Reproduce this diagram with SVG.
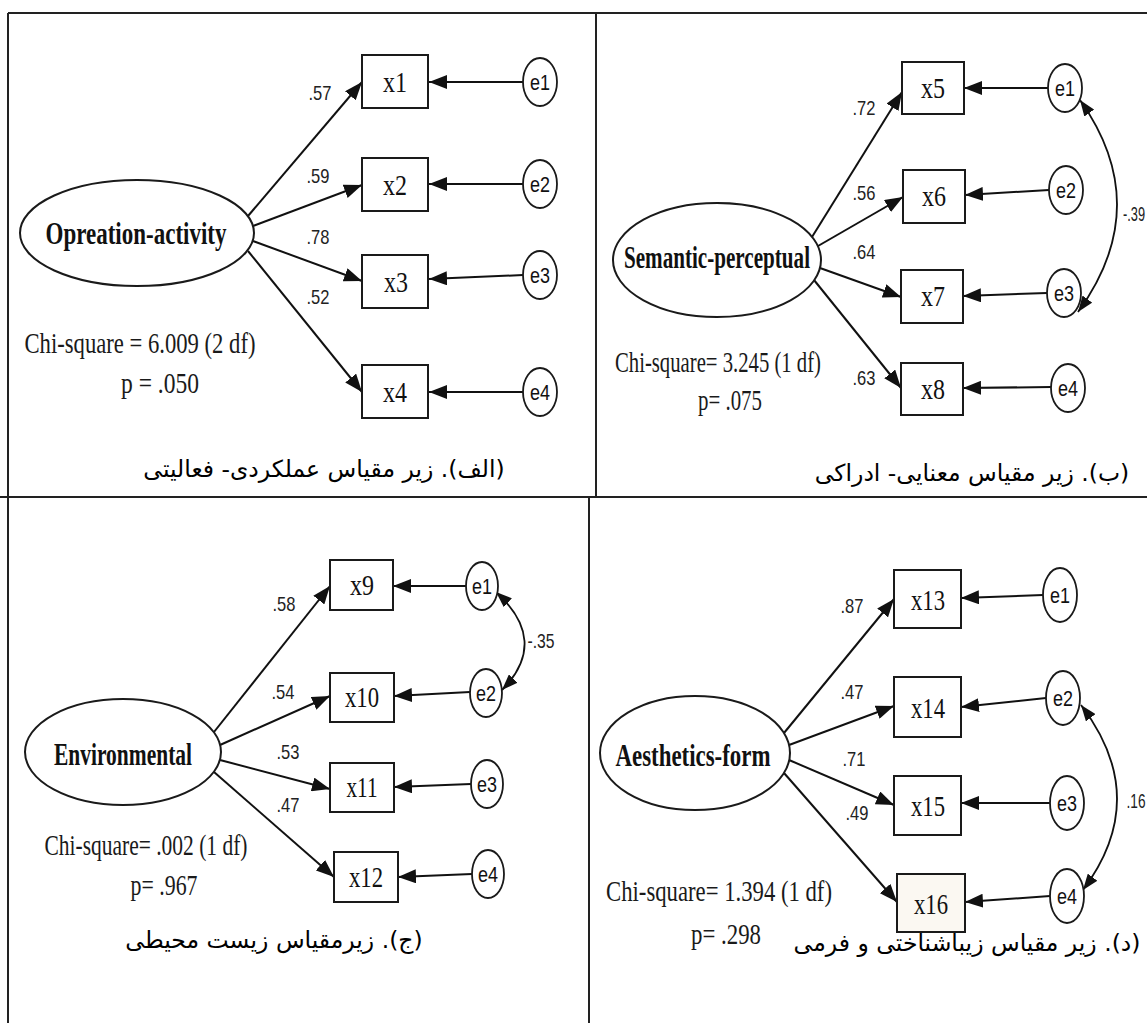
<svg xmlns="http://www.w3.org/2000/svg" width="1147" height="1023" viewBox="0 0 1147 1023">
<style>
.frame{fill:none;stroke:#222;stroke-width:2}
.lat{fill:#fff;stroke:#1a1a1a;stroke-width:2}
.box{fill:#fff;stroke:#1a1a1a;stroke-width:2}
.err{fill:#fff;stroke:#1a1a1a;stroke-width:1.8}
.c{fill:none;stroke:#111;stroke-width:2;marker-end:url(#ah)}
.cv{fill:none;stroke:#111;stroke-width:1.8;marker-end:url(#ah2);marker-start:url(#ah2)}
.lt{font-family:"Liberation Serif",serif;font-weight:bold;font-size:32px;fill:#111;text-anchor:middle}
.xl{font-family:"Liberation Serif",serif;font-size:30px;fill:#111;text-anchor:middle}
.el{font-family:"Liberation Sans",sans-serif;font-size:22px;fill:#111;text-anchor:middle}
.ld{font-family:"Liberation Sans",sans-serif;font-size:21px;fill:#222;text-anchor:middle}
.chi{font-family:"Liberation Serif",serif;font-size:30px;fill:#1a1a1a;text-anchor:middle}
.cap{font-family:"DejaVu Sans",sans-serif;font-size:23.5px;fill:#000;text-anchor:middle}
</style>
<defs>
<marker id="ah" markerUnits="userSpaceOnUse" viewBox="0 0 18 14" refX="18" refY="7" markerWidth="18" markerHeight="14" orient="auto"><path d="M0,0 L18,7 L0,14 z" fill="#111"/></marker>
<marker id="ah2" markerUnits="userSpaceOnUse" viewBox="0 0 16 12" refX="16" refY="6" markerWidth="16" markerHeight="12" orient="auto-start-reverse"><path d="M0,0 L16,6 L0,12 z" fill="#111"/></marker>
</defs>
<rect width="1147" height="1023" fill="#fff"/>
<g id="frame" class="frame">
<path d="M8,13 H1147"/>
<path d="M8,13 V1023"/>
<path d="M0,497 H1147"/>
<path d="M596,13 V497"/>
<path d="M589,497 V1023"/>
</g>
<g id="connectors">
<path class="c" d="M248,216 L362,82"/>
<path class="c" d="M253,226 L362,185"/>
<path class="c" d="M253,241 L362,281"/>
<path class="c" d="M248,251 L362,392"/>
<path class="c" d="M523,82 L429,82"/>
<path class="c" d="M523,184 L429,184"/>
<path class="c" d="M523,275 L429,279"/>
<path class="c" d="M523,392 L429,392"/>
<path class="c" d="M812,237 L902,92"/>
<path class="c" d="M818,246 L903,197"/>
<path class="c" d="M820,268 L901,297"/>
<path class="c" d="M814,280 L901,388"/>
<path class="c" d="M1048,88 L964,88"/>
<path class="c" d="M1049,190 L965,195"/>
<path class="c" d="M1047,293 L963,296"/>
<path class="c" d="M1051,387 L963,388"/>
<path class="cv" d="M1080,100 Q1155,206 1078,312"/>
<path class="c" d="M214,732 L330,586"/>
<path class="c" d="M220,745 L330,696"/>
<path class="c" d="M220,760 L330,789"/>
<path class="c" d="M214,772 L334,877"/>
<path class="c" d="M466,586 L393,586"/>
<path class="c" d="M470,692 L394,696"/>
<path class="c" d="M471,784 L394,787"/>
<path class="c" d="M472,874 L398,877"/>
<path class="cv" d="M496,592 Q550,641 502,690"/>
<path class="c" d="M784,733 L894,599"/>
<path class="c" d="M789,745 L894,706"/>
<path class="c" d="M789,760 L894,805"/>
<path class="c" d="M784,773 L897,902"/>
<path class="c" d="M1043,595 L961,598"/>
<path class="c" d="M1046,698 L961,707"/>
<path class="c" d="M1050,803 L961,803"/>
<path class="c" d="M1050,896 L965,902"/>
<path class="cv" d="M1081,705 Q1152,798 1083,890"/>
</g>
<g id="labels">
<text class="ld" x="320" y="100" textLength="23" lengthAdjust="spacingAndGlyphs">.57</text>
<text class="ld" x="318" y="183" textLength="23" lengthAdjust="spacingAndGlyphs">.59</text>
<text class="ld" x="318" y="244" textLength="23" lengthAdjust="spacingAndGlyphs">.78</text>
<text class="ld" x="318" y="304" textLength="23" lengthAdjust="spacingAndGlyphs">.52</text>
<text class="ld" x="864" y="115" textLength="23" lengthAdjust="spacingAndGlyphs">.72</text>
<text class="ld" x="864" y="200" textLength="23" lengthAdjust="spacingAndGlyphs">.56</text>
<text class="ld" x="864" y="259" textLength="23" lengthAdjust="spacingAndGlyphs">.64</text>
<text class="ld" x="864" y="385" textLength="23" lengthAdjust="spacingAndGlyphs">.63</text>
<text class="ld" x="1134" y="221" textLength="22" lengthAdjust="spacingAndGlyphs">-.39</text>
<text class="ld" x="284" y="611" textLength="23" lengthAdjust="spacingAndGlyphs">.58</text>
<text class="ld" x="283" y="699" textLength="23" lengthAdjust="spacingAndGlyphs">.54</text>
<text class="ld" x="288" y="759" textLength="23" lengthAdjust="spacingAndGlyphs">.53</text>
<text class="ld" x="288" y="812" textLength="23" lengthAdjust="spacingAndGlyphs">.47</text>
<text class="ld" x="541" y="648" textLength="27" lengthAdjust="spacingAndGlyphs">-.35</text>
<text class="ld" x="852" y="613" textLength="23" lengthAdjust="spacingAndGlyphs">.87</text>
<text class="ld" x="852" y="699" textLength="23" lengthAdjust="spacingAndGlyphs">.47</text>
<text class="ld" x="854" y="766" textLength="23" lengthAdjust="spacingAndGlyphs">.71</text>
<text class="ld" x="857" y="820" textLength="23" lengthAdjust="spacingAndGlyphs">.49</text>
<text class="ld" x="1136" y="808" textLength="19" lengthAdjust="spacingAndGlyphs">.16</text>
</g>
<g id="panel-a">
<g id="opreation-activity"><ellipse class="lat" cx="137" cy="233" rx="117" ry="53"/><text class="lt" x="136" y="244" textLength="181" lengthAdjust="spacingAndGlyphs">Opreation-activity</text></g>
<g id="x1"><rect class="box" x="362" y="55" width="66" height="53"/><text class="xl" x="395" y="92" textLength="24" lengthAdjust="spacingAndGlyphs">x1</text></g>
<g id="x2"><rect class="box" x="362" y="158" width="66" height="53"/><text class="xl" x="395" y="195" textLength="24" lengthAdjust="spacingAndGlyphs">x2</text></g>
<g id="x3"><rect class="box" x="362" y="255" width="66" height="53"/><text class="xl" x="396" y="292" textLength="24" lengthAdjust="spacingAndGlyphs">x3</text></g>
<g id="x4"><rect class="box" x="362" y="365" width="66" height="53"/><text class="xl" x="395" y="402" textLength="24" lengthAdjust="spacingAndGlyphs">x4</text></g>
<g id="a-e1"><ellipse class="err" cx="540" cy="82" rx="17" ry="24"/><text class="el" x="540" y="90" textLength="20" lengthAdjust="spacingAndGlyphs">e1</text></g>
<g id="a-e2"><ellipse class="err" cx="540" cy="184" rx="17" ry="24"/><text class="el" x="540" y="192" textLength="20" lengthAdjust="spacingAndGlyphs">e2</text></g>
<g id="a-e3"><ellipse class="err" cx="540" cy="275" rx="17" ry="24"/><text class="el" x="540" y="283" textLength="20" lengthAdjust="spacingAndGlyphs">e3</text></g>
<g id="a-e4"><ellipse class="err" cx="540" cy="392" rx="17" ry="24"/><text class="el" x="540" y="400" textLength="20" lengthAdjust="spacingAndGlyphs">e4</text></g>
<text class="chi" x="140" y="353" textLength="231" lengthAdjust="spacingAndGlyphs">Chi-square = 6.009 (2 df)</text>
<text class="chi" x="160" y="393" textLength="78" lengthAdjust="spacingAndGlyphs">p = .050</text>
<text class="cap" x="324" y="477" direction="rtl">(الف). زیر مقیاس عملکردی- فعالیتی</text>
</g>
<g id="panel-b">
<g id="semantic-perceptual"><ellipse class="lat" cx="717" cy="260" rx="104" ry="57"/><text class="lt" x="717" y="268" textLength="186" lengthAdjust="spacingAndGlyphs">Semantic-perceptual</text></g>
<g id="x5"><rect class="box" x="902" y="62" width="62" height="52"/><text class="xl" x="933" y="98" textLength="24" lengthAdjust="spacingAndGlyphs">x5</text></g>
<g id="x6"><rect class="box" x="903" y="170" width="62" height="53"/><text class="xl" x="934" y="206" textLength="24" lengthAdjust="spacingAndGlyphs">x6</text></g>
<g id="x7"><rect class="box" x="901" y="270" width="62" height="53"/><text class="xl" x="933" y="306" textLength="24" lengthAdjust="spacingAndGlyphs">x7</text></g>
<g id="x8"><rect class="box" x="901" y="363" width="62" height="52"/><text class="xl" x="933" y="399" textLength="24" lengthAdjust="spacingAndGlyphs">x8</text></g>
<g id="b-e1"><ellipse class="err" cx="1065" cy="88" rx="17" ry="24"/><text class="el" x="1065" y="96" textLength="20" lengthAdjust="spacingAndGlyphs">e1</text></g>
<g id="b-e2"><ellipse class="err" cx="1066" cy="190" rx="17" ry="24"/><text class="el" x="1066" y="198" textLength="20" lengthAdjust="spacingAndGlyphs">e2</text></g>
<g id="b-e3"><ellipse class="err" cx="1064" cy="293" rx="17" ry="24"/><text class="el" x="1064" y="301" textLength="20" lengthAdjust="spacingAndGlyphs">e3</text></g>
<g id="b-e4"><ellipse class="err" cx="1068" cy="388" rx="17" ry="24"/><text class="el" x="1068" y="396" textLength="20" lengthAdjust="spacingAndGlyphs">e4</text></g>
<text class="chi" x="718" y="372" textLength="206" lengthAdjust="spacingAndGlyphs">Chi-square= 3.245 (1 df)</text>
<text class="chi" x="730" y="410" textLength="64" lengthAdjust="spacingAndGlyphs">p= .075</text>
<text class="cap" x="972" y="481" direction="rtl">(ب). زیر مقیاس معنایی- ادراکی</text>
</g>
<g id="panel-c">
<g id="environmental"><ellipse class="lat" cx="123" cy="752" rx="98" ry="53"/><text class="lt" x="123" y="765" textLength="138" lengthAdjust="spacingAndGlyphs">Environmental</text></g>
<g id="x9"><rect class="box" x="330" y="560" width="63" height="50"/><text class="xl" x="362" y="595" textLength="24" lengthAdjust="spacingAndGlyphs">x9</text></g>
<g id="x10"><rect class="box" x="330" y="673" width="64" height="49"/><text class="xl" x="362" y="707" textLength="34" lengthAdjust="spacingAndGlyphs">x10</text></g>
<g id="x11"><rect class="box" x="330" y="763" width="64" height="49"/><text class="xl" x="362" y="797" textLength="31" lengthAdjust="spacingAndGlyphs">x11</text></g>
<g id="x12"><rect class="box" x="334" y="852" width="64" height="50"/><text class="xl" x="366" y="887" textLength="34" lengthAdjust="spacingAndGlyphs">x12</text></g>
<g id="c-e1"><ellipse class="err" cx="482" cy="586" rx="16" ry="24"/><text class="el" x="482" y="594" textLength="20" lengthAdjust="spacingAndGlyphs">e1</text></g>
<g id="c-e2"><ellipse class="err" cx="486" cy="693" rx="16" ry="24"/><text class="el" x="486" y="701" textLength="20" lengthAdjust="spacingAndGlyphs">e2</text></g>
<g id="c-e3"><ellipse class="err" cx="487" cy="784" rx="16" ry="24"/><text class="el" x="487" y="792" textLength="20" lengthAdjust="spacingAndGlyphs">e3</text></g>
<g id="c-e4"><ellipse class="err" cx="488" cy="874" rx="16" ry="24"/><text class="el" x="488" y="882" textLength="20" lengthAdjust="spacingAndGlyphs">e4</text></g>
<text class="chi" x="146" y="855" textLength="203" lengthAdjust="spacingAndGlyphs">Chi-square= .002 (1 df)</text>
<text class="chi" x="164" y="895" textLength="67" lengthAdjust="spacingAndGlyphs">p= .967</text>
<text class="cap" x="274" y="948" direction="rtl">(ج). زیرمقیاس زیست محیطی</text>
</g>
<g id="panel-d">
<g id="aesthetics-form"><ellipse class="lat" cx="695" cy="753" rx="95" ry="57"/><text class="lt" x="693" y="766" textLength="155" lengthAdjust="spacingAndGlyphs">Aesthetics-form</text></g>
<g id="x13"><rect class="box" x="894" y="570" width="67" height="58"/><text class="xl" x="928" y="610" textLength="34" lengthAdjust="spacingAndGlyphs">x13</text></g>
<g id="x14"><rect class="box" x="894" y="677" width="67" height="60"/><text class="xl" x="928" y="718" textLength="34" lengthAdjust="spacingAndGlyphs">x14</text></g>
<g id="x15"><rect class="box" x="894" y="776" width="67" height="59"/><text class="xl" x="928" y="816" textLength="34" lengthAdjust="spacingAndGlyphs">x15</text></g>
<g id="x16"><rect class="box" x="897" y="874" width="68" height="58" style="fill:#fbf8f2"/><text class="xl" x="931" y="914" textLength="34" lengthAdjust="spacingAndGlyphs">x16</text></g>
<g id="d-e1"><ellipse class="err" cx="1060" cy="595" rx="17" ry="27"/><text class="el" x="1060" y="603" textLength="20" lengthAdjust="spacingAndGlyphs">e1</text></g>
<g id="d-e2"><ellipse class="err" cx="1063" cy="698" rx="17" ry="27"/><text class="el" x="1063" y="706" textLength="20" lengthAdjust="spacingAndGlyphs">e2</text></g>
<g id="d-e3"><ellipse class="err" cx="1067" cy="803" rx="17" ry="27"/><text class="el" x="1067" y="811" textLength="20" lengthAdjust="spacingAndGlyphs">e3</text></g>
<g id="d-e4"><ellipse class="err" cx="1067" cy="896" rx="17" ry="27"/><text class="el" x="1067" y="904" textLength="20" lengthAdjust="spacingAndGlyphs">e4</text></g>
<text class="chi" x="719" y="901" textLength="226" lengthAdjust="spacingAndGlyphs">Chi-square= 1.394 (1 df)</text>
<text class="chi" x="726" y="944" textLength="70" lengthAdjust="spacingAndGlyphs">p= .298</text>
<text class="cap" x="967" y="951" direction="rtl">(د). زیر مقیاس زیباشناختی و فرمی</text>
</g>
</svg>
